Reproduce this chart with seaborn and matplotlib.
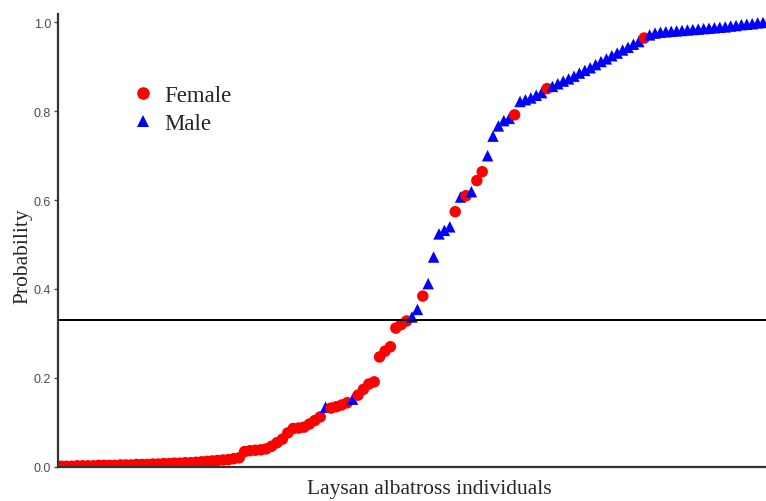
import numpy as np
import pandas as pd
import seaborn as sns
from matplotlib import pyplot as plt

# sorted probability for each individual, left to right
probability = [
    0.001, 0.001, 0.001, 0.002, 0.002, 0.002, 0.002, 0.003, 0.003, 0.003,
    0.003, 0.004, 0.004, 0.004, 0.005, 0.005, 0.005, 0.006, 0.006, 0.007,
    0.007, 0.008, 0.008, 0.009, 0.009, 0.010, 0.011, 0.012, 0.013, 0.014,
    0.015, 0.016, 0.018, 0.020,
    0.034, 0.036, 0.037, 0.038, 0.040, 0.046, 0.054, 0.062, 0.076, 0.086,
    0.087, 0.089, 0.096, 0.104, 0.112, 0.134, 0.132, 0.135, 0.139, 0.144,
    0.152, 0.161, 0.174, 0.186, 0.191, 0.247, 0.260, 0.270, 0.312, 0.320,
    0.328, 0.337, 0.354, 0.384, 0.412, 0.472, 0.524, 0.532, 0.540, 0.574,
    0.607, 0.610, 0.619, 0.644, 0.664, 0.700, 0.744, 0.767, 0.779, 0.784,
    0.792, 0.822, 0.826, 0.830, 0.836, 0.842, 0.851,
    0.856, 0.862, 0.868, 0.873, 0.879, 0.886, 0.892, 0.898, 0.905, 0.912,
    0.918, 0.925, 0.931, 0.938, 0.944, 0.951, 0.957,
    0.965,
    0.972, 0.976, 0.978, 0.979, 0.980, 0.981, 0.982, 0.983, 0.984, 0.985,
    0.986, 0.987, 0.988, 0.989, 0.990, 0.992, 0.993, 0.995, 0.996, 0.997,
    0.999, 1.000,
]

sex = (["Female"] * 49 + ["Male"] + ["Female"] * 4 + ["Male"] + ["Female"] * 10
       + ["Male"] * 2 + ["Female"] + ["Male"] * 5 + ["Female"] + ["Male"]
       + ["Female"] + ["Male"] + ["Female"] * 2 + ["Male"] * 5 + ["Female"]
       + ["Male"] * 5 + ["Female"] + ["Male"] * 17 + ["Female"] + ["Male"] * 22)

threshold = 0.33
yticks = [0.0, 0.2, 0.4, 0.6, 0.8, 1.0]

df = pd.DataFrame({
    "individual": np.arange(len(probability)),
    "probability": probability,
    "sex": sex,
})

sns.set_style("white")
fig = plt.figure(figsize=(7.66, 5.02), dpi=100)
ax = fig.add_axes([58 / 766, 34.3 / 502, 708 / 766, 452.7 / 502])

sns.scatterplot(data=df, x="individual", y="probability", hue="sex", style="sex",
                palette={"Female": "red", "Male": "blue"},
                markers={"Female": "o", "Male": "^"},
                s=68, linewidth=0, ax=ax)
ax.axhline(threshold, color="black", lw=1.4)

ax.set_xlim(-0.55, len(probability) - 0.45)
ax.set_ylim(0, 1.019)
ax.set_xticks([])
ax.set_yticks(yticks)
ax.set_yticklabels([f"{t:.1f}" for t in yticks], fontfamily="Liberation Sans",
                   fontsize=9, color="#4d4d4d")
ax.tick_params(axis="y", left=True, length=3, width=1, color="#4d4d4d", pad=2)

for side in ["top", "right"]:
    ax.spines[side].set_visible(False)
for side in ["left", "bottom"]:
    ax.spines[side].set_color("#333333")
    ax.spines[side].set_linewidth(1.6)

ax.set_xlabel("Laysan albatross individuals", fontfamily="Liberation Serif",
              fontsize=15.5)
ax.xaxis.set_label_coords(0.525, -0.028)
ax.set_ylabel("Probability", fontfamily="Liberation Serif", fontsize=15.5)
ax.yaxis.set_label_coords(-0.036, 0.468)

handles, labels = ax.get_legend_handles_labels()
ax.legend(handles, labels, frameon=False, loc="upper left",
          bbox_to_anchor=(120 / 766, 1 - 75 / 502), bbox_transform=fig.transFigure,
          prop={"family": "Liberation Serif", "size": 16.5}, handlelength=1.0,
          handletextpad=0.45, borderpad=0, labelspacing=0.3, markerscale=1.1)

fig.savefig("out.png", dpi=100)
